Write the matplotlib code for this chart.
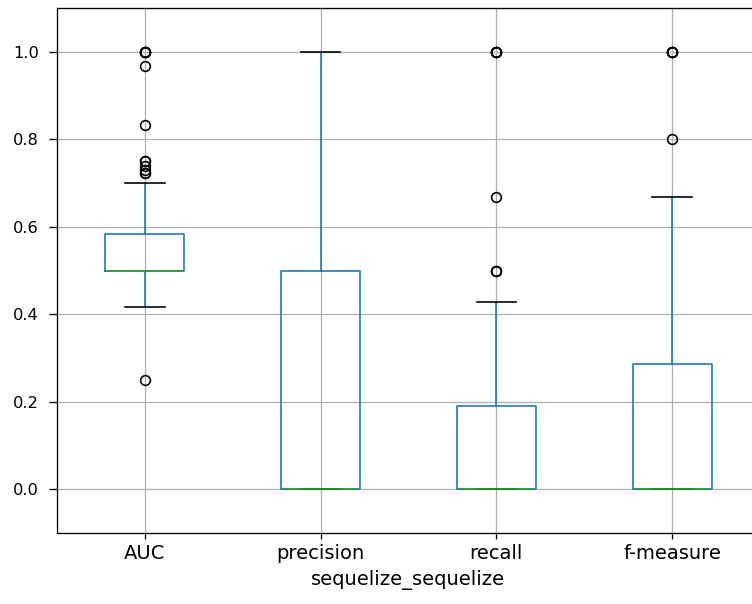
import matplotlib
matplotlib.use('Agg')
import matplotlib.pyplot as plt

# per-metric box statistics (quartiles, whisker ends, outliers)
metrics = ['AUC', 'precision', 'recall', 'f-measure']
q1 = [0.5, 0.0, 0.0, 0.0]
med = [0.5, 0.0, 0.0, 0.0]
q3 = [0.583, 0.5, 0.19, 0.286]
whislo = [0.417, 0.0, 0.0, 0.0]
whishi = [0.7, 1.0, 0.429, 0.667]
fliers = [
    [1.0, 1.0, 1.0, 1.0, 0.967, 0.833, 0.75, 0.75, 0.74, 0.73, 0.722, 0.722, 0.25],
    [],
    [1.0, 1.0, 1.0, 1.0, 0.667, 0.5, 0.5, 0.5],
    [1.0, 1.0, 1.0, 1.0, 0.8],
]

stats = [dict(label=m, q1=a, med=b, q3=c, whislo=d, whishi=e, fliers=f)
         for m, a, b, c, d, e, f in zip(metrics, q1, med, q3, whislo, whishi, fliers)]

DPI = 117
fig = plt.figure(figsize=(752 / DPI, 604 / DPI), dpi=DPI)
# axes runs slightly past the right edge of the canvas
ax = fig.add_axes([57 / 752, 71 / 604, 703 / 752, 525 / 604])

ax.bxp(stats, widths=0.45,
       boxprops=dict(color='C0'),
       whiskerprops=dict(color='C0'),
       medianprops=dict(color='C2'),
       capprops=dict(color='k'),
       flierprops=dict(marker='o', markerfacecolor='none', markeredgecolor='k'))

ax.grid(True)
ax.set_ylim(-0.1, 1.1)
ax.set_xlim(0.5, 4.5)
ax.tick_params(axis='x', labelsize=12)
ax.tick_params(axis='y', labelsize=10, length=4.9, pad=6.2)
ax.set_xlabel('sequelize_sequelize', fontsize=12)

fig.savefig('out.png', dpi=DPI)
